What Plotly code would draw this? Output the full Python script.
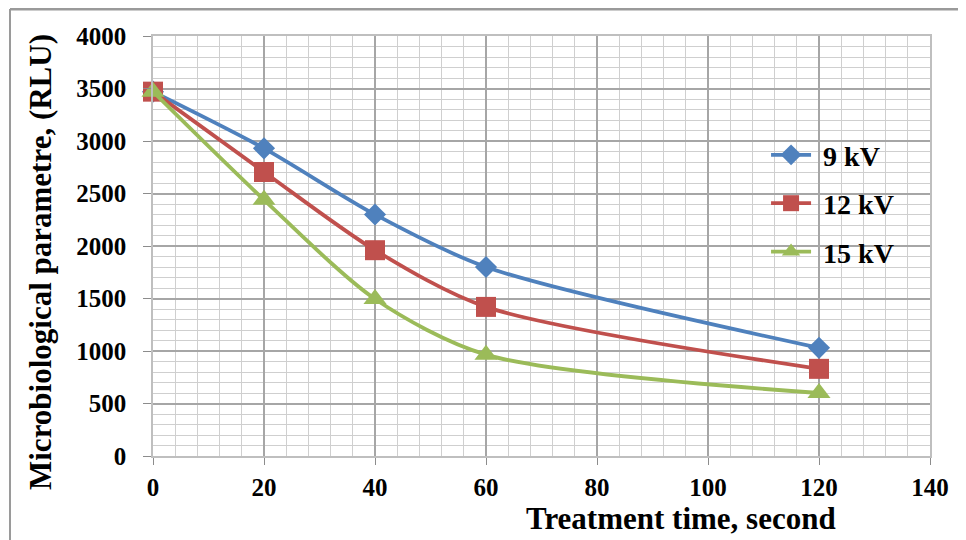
import plotly.graph_objects as go

time_s = [0, 20, 40, 60, 120]
kv9 = [3470, 2930, 2300, 1800, 1030]
kv12 = [3470, 2705, 1960, 1420, 830]
kv15 = [3470, 2440, 1495, 965, 600]
series_names = ["9 kV", "12 kV", "15 kV"]
x_ticks = [0, 20, 40, 60, 80, 100, 120, 140]
y_ticks = [0, 500, 1000, 1500, 2000, 2500, 3000, 3500, 4000]

colors = ["#4F81BD", "#C0504D", "#9BBB59"]
symbols = ["diamond", "square", "triangle-up"]
sizes = [17, 20, 20]

FONT = "Liberation Serif"

fig = go.Figure()
for i, (name, vals) in enumerate(zip(series_names, [kv9, kv12, kv15])):
    fig.add_trace(go.Scatter(
        x=time_s, y=vals, name=" " + name, mode="lines+markers",
        line=dict(color=colors[i], width=3.8, shape="spline", smoothing=0.8),
        marker=dict(symbol=symbols[i], size=sizes[i], color=colors[i]),
        legendgroup=name, cliponaxis=False,
    ))

grid_major = "#a6a6a6"
grid_minor = "#cfcfcf"

# the page body adds an 8px offset; margins compensate so the plot area lands at 153..930 x 36..456
fig.update_layout(
    width=966, height=540,
    margin=dict(l=145, r=44, t=28, b=92),
    paper_bgcolor="white", plot_bgcolor="white",
    font=dict(family=FONT, size=18, color="black"),
    showlegend=True,
    legend=dict(
        x=0.789, y=0.776, xanchor="left", yanchor="top",
        bgcolor="rgba(0,0,0,0)",
        font=dict(family=FONT, size=28, color="black", weight="bold"),
        tracegroupgap=9, itemwidth=40,
    ),
    xaxis=dict(
        range=[0, 140], tickvals=x_ticks, ticktext=[str(v) for v in x_ticks],
        showgrid=True, gridcolor=grid_major, gridwidth=1.5,
        minor=dict(dtick=4, showgrid=True, gridcolor=grid_minor, gridwidth=1),
        showline=True, linecolor="#bfbfbf", linewidth=1.5, mirror=True,
        ticks="outside", ticklen=7, tickcolor="#8c8c8c",
        ticklabelstandoff=1,
        tickfont=dict(family=FONT, size=25, color="black", weight="bold"),
        zeroline=False,
    ),
    yaxis=dict(
        range=[0, 4000], tickvals=y_ticks, ticktext=[str(v) for v in y_ticks],
        showgrid=True, gridcolor=grid_major, gridwidth=1.5,
        minor=dict(dtick=100, showgrid=True, gridcolor=grid_minor, gridwidth=1),
        showline=True, linecolor="#bfbfbf", linewidth=1.5, mirror=True,
        ticks="outside", ticklen=8, tickcolor="#8c8c8c",
        ticklabelstandoff=12,
        tickfont=dict(family=FONT, size=25, color="black", weight="bold"),
        zeroline=False,
    ),
    annotations=[
        dict(text="Treatment time, second", xref="paper", yref="paper",
             x=(681 - 153) / 777, y=(456 - 519) / 420, xanchor="center", yanchor="middle",
             showarrow=False, font=dict(family=FONT, size=31, color="black", weight="bold")),
        dict(text="Microbiological parametre, (RLU)", xref="paper", yref="paper",
             x=(40 - 153) / 777, y=(456 - 262) / 420, xanchor="center", yanchor="middle",
             textangle=-90, showarrow=False,
             font=dict(family=FONT, size=31, color="black", weight="bold")),
    ],
    shapes=[
        dict(type="line", xref="paper", yref="paper",
             x0=(10 - 153) / 777, x1=(966 - 153) / 777,
             y0=(456 - 9) / 420, y1=(456 - 9) / 420,
             line=dict(color="#9a9a9a", width=3)),
        dict(type="line", xref="paper", yref="paper",
             x0=(10 - 153) / 777, x1=(10 - 153) / 777,
             y0=(456 - 9) / 420, y1=(456 - 540) / 420,
             line=dict(color="#9a9a9a", width=2)),
    ],
)

fig.write_html("out.html")
